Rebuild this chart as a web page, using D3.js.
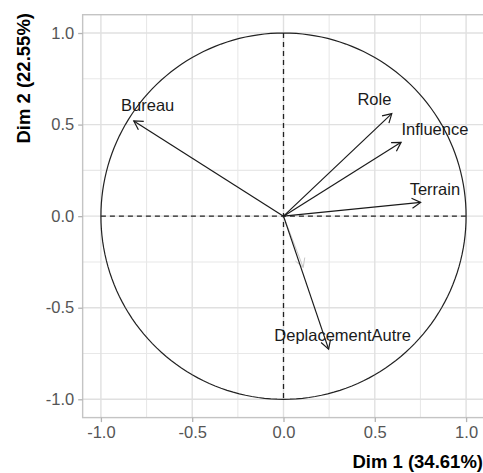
<!DOCTYPE html>
<html>
<head>
<meta charset="utf-8">
<script src="https://cdn.jsdelivr.net/npm/d3@7"></script>
<style>
  html, body { margin: 0; padding: 0; background: #fff; }
  svg { display: block; }
  text { font-family: Arial, "Liberation Sans", sans-serif; }
</style>
</head>
<body>
<svg id="chart" width="483" height="473"></svg>
<script>
// ---- data ----
const variables = ["Bureau", "Role", "Influence", "Terrain", "DeplacementAutre"];
const dim1 = [-0.82, 0.593, 0.644, 0.751, 0.247];
const dim2 = [0.52, 0.56, 0.403, 0.075, -0.726];
const labelX = [-0.744, 0.498, 0.829, 0.829, 0.324];
const labelY = [0.609, 0.637, 0.478, 0.150, -0.648];
// faint supplementary vector
const suppDim1 = [0.108];
const suppDim2 = [-0.28];
const xTicks = [-1.0, -0.5, 0.0, 0.5, 1.0];
const yTicks = [-1.0, -0.5, 0.0, 0.5, 1.0];
const minorTicks = [-0.75, -0.25, 0.25, 0.75];
const xTitle = "Dim 1 (34.61%)";
const yTitle = "Dim 2 (22.55%)";

// ---- scales ----
const svg = d3.select("#chart");
const x = d3.scaleLinear().domain([-1.1, 1.1]).range([82.65, 484.35]);
const y = d3.scaleLinear().domain([-1.1, 1.1]).range([417.6, 14.7]);
const [x0, x1] = x.range();
const [yb, yt] = y.range();

// grid
const grid = svg.append("g");
grid.selectAll(".vmin").data(minorTicks).enter().append("line")
  .attr("x1", d => x(d)).attr("x2", d => x(d)).attr("y1", yt).attr("y2", yb)
  .attr("stroke", "#e8e8e8").attr("stroke-width", 1.1);
grid.selectAll(".hmin").data(minorTicks).enter().append("line")
  .attr("y1", d => y(d)).attr("y2", d => y(d)).attr("x1", x0).attr("x2", x1)
  .attr("stroke", "#e8e8e8").attr("stroke-width", 1.1);
grid.selectAll(".vmaj").data(xTicks).enter().append("line")
  .attr("x1", d => x(d)).attr("x2", d => x(d)).attr("y1", yt).attr("y2", yb)
  .attr("stroke", "#e0e0e0").attr("stroke-width", 1.4);
grid.selectAll(".hmaj").data(yTicks).enter().append("line")
  .attr("y1", d => y(d)).attr("y2", d => y(d)).attr("x1", x0).attr("x2", x1)
  .attr("stroke", "#e0e0e0").attr("stroke-width", 1.4);

// panel border
svg.append("rect").attr("x", x0).attr("y", yt).attr("width", x1 - x0).attr("height", yb - yt)
  .attr("fill", "none").attr("stroke", "#c4c4c4").attr("stroke-width", 1.4);

// axes
const fmt = d => d3.format(".1f")(d).replace("\u2212", "-");
const xAxis = svg.append("g").attr("transform", `translate(0,${yb})`)
  .call(d3.axisBottom(x).tickValues(xTicks).tickFormat(fmt).tickSize(4.5).tickPadding(4));
const yAxis = svg.append("g").attr("transform", `translate(${x0},0)`)
  .call(d3.axisLeft(y).tickValues(yTicks).tickFormat(fmt).tickSize(4.5).tickPadding(4));
[xAxis, yAxis].forEach(a => {
  a.select(".domain").remove();
  a.selectAll(".tick line").attr("stroke", "#b3b3b3").attr("stroke-width", 1.3);
  a.selectAll(".tick text").attr("fill", "#555").style("font-size", "16.5px")
    .style("font-family", "Arial, 'Liberation Sans', sans-serif");
});

// titles
svg.append("text").attr("x", 483).attr("y", 468).attr("text-anchor", "end")
  .style("font-size", "18.5px").style("font-weight", "bold").attr("fill", "#000").text(xTitle);
svg.append("text").attr("transform", "translate(30,13) rotate(-90)").attr("text-anchor", "end")
  .style("font-size", "18.5px").style("font-weight", "bold").attr("fill", "#000").text(yTitle);

// circle
const angles = d3.range(0, 361, 2).map(a => a * Math.PI / 180);
svg.append("path")
  .attr("d", d3.line().x(a => x(Math.cos(a))).y(a => y(Math.sin(a)))(angles))
  .attr("fill", "none").attr("stroke", "#222").attr("stroke-width", 1.2);

// dashed axes
svg.append("line").attr("x1", x(-1)).attr("x2", x(1)).attr("y1", y(0)).attr("y2", y(0))
  .attr("stroke", "#222").attr("stroke-width", 1.3).attr("stroke-dasharray", "5,4");
svg.append("line").attr("x1", x(0)).attr("x2", x(0)).attr("y1", y(1)).attr("y2", y(-1))
  .attr("stroke", "#222").attr("stroke-width", 1.3).attr("stroke-dasharray", "5,4");

// arrows
function arrow(g, dx, dy, color, width) {
  const sx = x(0), sy = y(0), ex = x(dx), ey = y(dy);
  g.append("line").attr("x1", sx).attr("y1", sy).attr("x2", ex).attr("y2", ey)
    .attr("stroke", color).attr("stroke-width", width);
  const ang = Math.atan2(ey - sy, ex - sx);
  const L = 10, spread = Math.PI / 6;
  const p1 = [ex - L * Math.cos(ang - spread), ey - L * Math.sin(ang - spread)];
  const p2 = [ex - L * Math.cos(ang + spread), ey - L * Math.sin(ang + spread)];
  g.append("path").attr("d", `M${p1[0]},${p1[1]}L${ex},${ey}L${p2[0]},${p2[1]}`)
    .attr("fill", "none").attr("stroke", color).attr("stroke-width", width);
}
const supp = svg.append("g");
suppDim1.forEach((d, i) => arrow(supp, d, suppDim2[i], "#c8c8c8", 1));
const arr = svg.append("g");
variables.forEach((v, i) => arrow(arr, dim1[i], dim2[i], "#1a1a1a", 1.2));

// labels
svg.append("g").selectAll("text").data(variables).enter().append("text")
  .attr("x", (d, i) => x(labelX[i])).attr("y", (d, i) => y(labelY[i]))
  .attr("text-anchor", "middle").attr("dominant-baseline", "central")
  .style("font-size", "16.5px").attr("fill", "#1a1a1a").text(d => d);
</script>
</body>
</html>
